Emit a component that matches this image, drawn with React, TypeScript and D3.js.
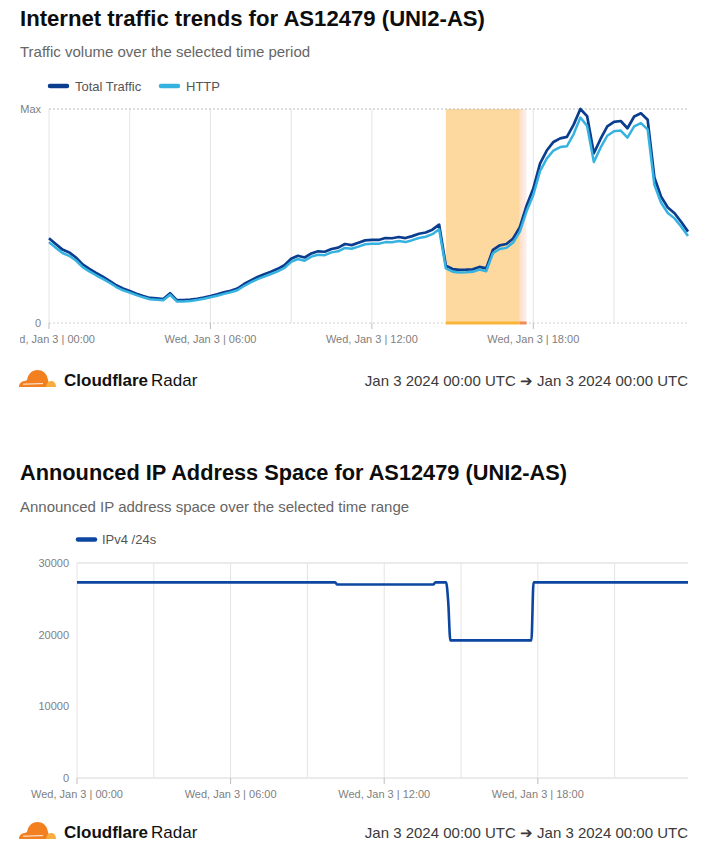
import React from "react";
import * as d3 from "d3";

// ---------- data ----------
const DAY_START = "2024-01-03T00:00:00Z";
const TRAFFIC_END = "2024-01-03T23:45:00Z";
const IP_END = "2024-01-03T23:52:00Z";
const TRAFFIC_STEP_MIN = 15;

// normalized traffic (0 .. 100 = Max), every 15 minutes
const totalTraffic = [
  39.6, 36.9, 34.3, 33.0, 30.6, 27.4, 25.3, 23.4, 21.6, 19.7, 17.6, 16.1,
  14.9, 13.7, 12.6, 11.7, 11.5, 11.2, 13.9, 10.7, 10.7, 10.9, 11.3, 11.9,
  12.6, 13.4, 14.3, 15.1, 16.1, 18.2, 19.9, 21.5, 22.8, 24.0, 25.3, 27.0,
  30.0, 31.4, 30.6, 32.5, 33.5, 33.3, 34.6, 35.2, 36.9, 36.4, 37.5, 38.6,
  38.8, 38.8, 39.7, 39.6, 40.2, 39.7, 40.6, 41.7, 42.3, 43.6, 46.0, 26.8,
  25.2, 24.8, 24.9, 25.1, 26.2, 25.5, 34.2, 36.3, 36.9, 39.5, 44.8, 54.8,
  62.8, 74.5, 80.6, 84.6, 86.3, 87.0, 92.7, 100.0, 96.7, 79.3, 86.0, 91.9,
  94.0, 94.4, 91.0, 96.5, 98.0, 95.0, 68.0, 59.0, 54.0, 51.3, 47.2, 42.7,
];
const httpTraffic = [
  37.8, 35.2, 32.7, 31.4, 29.2, 26.1, 24.1, 22.3, 20.6, 18.8, 16.8, 15.3,
  14.2, 13.0, 12.0, 11.1, 10.9, 10.6, 13.2, 10.1, 10.1, 10.3, 10.7, 11.3,
  12.0, 12.7, 13.6, 14.4, 15.3, 17.3, 19.0, 20.5, 21.7, 22.9, 24.1, 25.7,
  28.6, 29.9, 29.1, 31.0, 31.9, 31.7, 33.0, 33.5, 35.1, 34.7, 35.7, 36.8,
  37.0, 37.0, 37.8, 37.7, 38.3, 37.8, 38.7, 39.7, 40.3, 41.5, 43.8, 25.5,
  24.0, 23.6, 23.7, 23.9, 25.0, 24.2, 32.6, 34.6, 35.1, 37.6, 42.7, 52.2,
  59.8, 71.0, 76.8, 80.6, 82.2, 82.6, 88.3, 96.0, 92.1, 75.2, 81.9, 87.5,
  89.6, 89.9, 86.6, 91.9, 93.4, 90.5, 64.6, 56.2, 51.4, 48.9, 45.0, 40.7,
];
const trafficSeriesNames = ["Total Traffic", "HTTP"];
const trafficYTickValues = [0, 100];
const trafficYTickLabels = ["0", "Max"];

// annotation (outage window)
const annotationStart = "2024-01-03T14:45:00Z";
const annotationEnd = "2024-01-03T17:30:00Z";
const annotationFadeEnd = "2024-01-03T17:45:00Z";

// announced IPv4 /24s
const ipTimes = [
  "00:00", "10:05", "10:10", "13:55", "14:00", "14:25", "14:30", "14:35",
  "17:45", "17:50", "23:52",
];
const ipValues = [
  27300, 27300, 27000, 27000, 27300, 27300, 24600, 19200, 19200, 27300, 27300,
];
const ipSeriesName = "IPv4 /24s";
const ipYTicks = [0, 10000, 20000, 30000];

const titles = [
  "Internet traffic trends for AS12479 (UNI2-AS)",
  "Announced IP Address Space for AS12479 (UNI2-AS)",
];
const subtitles = [
  "Traffic volume over the selected time period",
  "Announced IP address space over the selected time range",
];
const footerRange = "Jan 3 2024 00:00 UTC \u2794 Jan 3 2024 00:00 UTC";

// ---------- styles ----------
const FONT = "'Liberation Sans', Arial, Helvetica, sans-serif";
const C_TOTAL = "#0b3d8f";
const C_HTTP = "#35b2e0";
const C_IP = "#0c46a0";
const C_GRID = "#e4e4e4";
const C_AXIS_TEXT = "#808080";

const fmtTick = d3.utcFormat("%a, %b %-d | %H:%M");

function Logo({ x, y }: { x: number; y: number }) {
  return (
    <g transform={`translate(${x},${y})`}>
      <path
        d="M0 19 C0 15.5 2.5 13 6 13 C6.5 12.6 7 12.3 8 12.3 C9 6 13 2 18.5 2 C23.5 2 27.5 5.5 28.5 10 L31 19 Z"
        fill="#f38020"
      />
      <path d="M27 19 C27.5 15 30 13 32.5 13 C35 13 37 15.5 37 19 Z" fill="#faad3f" />
      <path d="M4 16.2 L24 15.6" stroke="#fff" strokeWidth={0.9} />
    </g>
  );
}

function Footer({ y }: { y: number }) {
  return (
    <g>
      <Logo x={19} y={y - 18} />
      <text x={64} y={y} fontSize={17} fontWeight={700} fill="#111">
        Cloudflare
      </text>
      <text x={151} y={y} fontSize={17} fill="#111">
        Radar
      </text>
      <text x={688} y={y} fontSize={15} fill="#3a3a3a" textAnchor="end">
        {footerRange}
      </text>
    </g>
  );
}

export default function App() {
  const t0 = new Date(DAY_START);
  const trafficDates = totalTraffic.map(
    (_, i) => new Date(t0.getTime() + i * TRAFFIC_STEP_MIN * 60000)
  );

  // ---- top chart scales ----
  const xTop = d3.scaleUtc().domain([t0, new Date(TRAFFIC_END)]).range([49, 688]);
  const yTop = d3.scaleLinear().domain([0, 100]).range([323, 109]);
  const topLine = (vals: number[]) =>
    d3
      .line<number>()
      .x((_, i) => xTop(trafficDates[i]))
      .y((v) => yTop(v))
      .curve(d3.curveLinear)(vals) || "";

  const topGrid = xTop.ticks(d3.utcHour.every(3)!).filter((d) => d > t0);
  const topLabels = xTop.ticks(d3.utcHour.every(6)!);

  const aX0 = xTop(new Date(annotationStart));
  const aX1 = xTop(new Date(annotationEnd));
  const aX2 = xTop(new Date(annotationFadeEnd));

  // ---- bottom chart scales ----
  const ipDates = ipTimes.map((s) => new Date(`2024-01-03T${s}:00Z`));
  const xBot = d3.scaleUtc().domain([t0, new Date(IP_END)]).range([77, 688]);
  const yBot = d3.scaleLinear().domain([0, 30000]).range([778, 563]);
  const botGrid = xBot.ticks(d3.utcHour.every(3)!).filter((d) => d > t0);
  const botLabels = xBot.ticks(d3.utcHour.every(6)!);
  const ipPath =
    d3
      .line<number>()
      .x((_, i) => xBot(ipDates[i]))
      .y((v) => yBot(v))
      .curve(d3.curveMonotoneX)(ipValues) || "";

  const legendTop = [
    { name: trafficSeriesNames[0], color: C_TOTAL, x: 50 },
    { name: trafficSeriesNames[1], color: C_HTTP, x: 161 },
  ];

  return (
    <svg
      width={720}
      height={852}
      style={{ position: "absolute", left: 0, top: 0, background: "#fff" }}
      fontFamily={FONT}
    >
      <defs>
        <clipPath id="clipTop">
          <rect x={20} y={0} width={700} height={420} />
        </clipPath>
        <linearGradient id="fadeGrad" x1="0" x2="1" y1="0" y2="0">
          <stop offset="0%" stopColor="#fce0c8" />
          <stop offset="100%" stopColor="#fdf0ee" />
        </linearGradient>
      </defs>

      {/* ================= TOP CHART ================= */}
      <text x={20} y={25.5} fontSize={22} fontWeight={700} fill="#0d0d0d" textLength={465} lengthAdjust="spacingAndGlyphs">
        {titles[0]}
      </text>
      <text x={20} y={57.3} fontSize={15} fill="#666">
        {subtitles[0]}
      </text>
      {legendTop.map((l) => (
        <g key={l.name}>
          <line
            x1={l.x}
            x2={l.x + 17}
            y1={86}
            y2={86}
            stroke={l.color}
            strokeWidth={4.5}
            strokeLinecap="round"
          />
          <text x={l.x + 25} y={90.6} fontSize={13} fill="#555">
            {l.name}
          </text>
        </g>
      ))}

      <g clipPath="url(#clipTop)">
        {/* grid */}
        {topGrid.map((d) => (
          <line
            key={+d}
            x1={xTop(d)}
            x2={xTop(d)}
            y1={109}
            y2={323}
            stroke={C_GRID}
            strokeWidth={1}
          />
        ))}
        <line x1={49} x2={49} y1={109} y2={323} stroke={C_GRID} />

        {/* annotation band */}
        <rect x={aX0} y={109} width={aX1 - aX0} height={214} fill="#fdd9a0" />
        <rect x={aX1} y={109} width={aX2 - aX1} height={214} fill="url(#fadeGrad)" />

        <line
          x1={49}
          x2={688}
          y1={yTop(100)}
          y2={yTop(100)}
          stroke="#bdbdbd"
          strokeDasharray="2,2"
        />
        <line
          x1={49}
          x2={688}
          y1={yTop(0)}
          y2={yTop(0)}
          stroke="#cfcfcf"
          strokeDasharray="2,2"
        />
        <line x1={aX0} x2={aX1} y1={323} y2={323} stroke="#fbb43a" strokeWidth={3} />
        <line x1={aX1} x2={aX2} y1={323} y2={323} stroke="#f58a55" strokeWidth={3} />

        {trafficYTickValues.map((v, i) => (
          <text
            key={v}
            x={41}
            y={yTop(v) + 4}
            fontSize={11}
            fill={C_AXIS_TEXT}
            textAnchor="end"
          >
            {trafficYTickLabels[i]}
          </text>
        ))}

        {topLabels.map((d) => (
          <g key={+d}>
            <line x1={xTop(d)} x2={xTop(d)} y1={323} y2={329} stroke="#bdbdbd" />
            <text
              x={xTop(d)}
              y={343.3}
              fontSize={11}
              fill={C_AXIS_TEXT}
              textAnchor="middle"
            >
              {fmtTick(d)}
            </text>
          </g>
        ))}

        {/* lines */}
        <path
          d={topLine(totalTraffic)}
          fill="none"
          stroke={C_TOTAL}
          strokeWidth={2.7}
          strokeLinejoin="round"
        />
        <path
          d={topLine(httpTraffic)}
          fill="none"
          stroke={C_HTTP}
          strokeWidth={2.5}
          strokeLinejoin="round"
        />
      </g>

      <Footer y={386} />

      {/* ================= BOTTOM CHART ================= */}
      <text x={20} y={480} fontSize={22} fontWeight={700} fill="#0d0d0d" textLength={547} lengthAdjust="spacingAndGlyphs">
        {titles[1]}
      </text>
      <text x={20} y={511.7} fontSize={15} fill="#666">
        {subtitles[1]}
      </text>
      <line
        x1={78}
        x2={95}
        y1={539.5}
        y2={539.5}
        stroke={C_IP}
        strokeWidth={4.5}
        strokeLinecap="round"
      />
      <text x={102} y={544} fontSize={13} fill="#555">
        {ipSeriesName}
      </text>

      {botGrid.map((d) => (
        <line
          key={+d}
          x1={xBot(d)}
          x2={xBot(d)}
          y1={563}
          y2={778}
          stroke={C_GRID}
        />
      ))}
      <line x1={77} x2={77} y1={563} y2={778} stroke={C_GRID} />
      <line x1={77} x2={688} y1={yBot(30000)} y2={yBot(30000)} stroke={C_GRID} strokeWidth={1.5} />
      <line x1={77} x2={688} y1={yBot(0)} y2={yBot(0)} stroke={C_GRID} strokeWidth={1.5} />

      {ipYTicks.map((v) => (
        <text
          key={v}
          x={69}
          y={yBot(v) + 4}
          fontSize={11}
          fill={C_AXIS_TEXT}
          textAnchor="end"
        >
          {String(v)}
        </text>
      ))}
      {botLabels.map((d) => (
        <g key={+d}>
          <line x1={xBot(d)} x2={xBot(d)} y1={778} y2={784} stroke="#bdbdbd" />
          <text
            x={xBot(d)}
            y={798}
            fontSize={11}
            fill={C_AXIS_TEXT}
            textAnchor="middle"
          >
            {fmtTick(d)}
          </text>
        </g>
      ))}

      <path
        d={ipPath}
        fill="none"
        stroke={C_IP}
        strokeWidth={2.6}
        strokeLinejoin="round"
      />

      <Footer y={838} />
    </svg>
  );
}
